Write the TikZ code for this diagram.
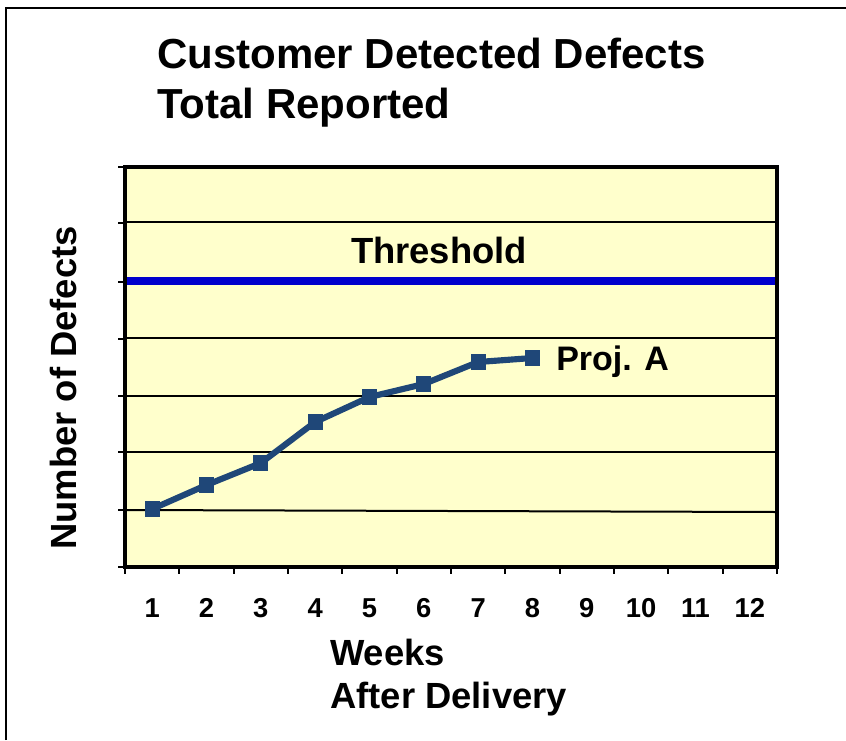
\documentclass[tikz,border=0pt]{standalone}
\usepackage{fontspec}
\setmainfont{Liberation Sans}
\definecolor{plotfill}{HTML}{FFFFCC}
\definecolor{threshblue}{HTML}{0000CC}
\definecolor{seriesblue}{HTML}{1F4778}
\begin{document}
\begin{tikzpicture}[x=0.75pt,y=-0.75pt,
  lbl/.style={font=\bfseries\fontsize{27.3}{30}\selectfont, inner sep=0pt},
  ttl/.style={font=\bfseries\fontsize{31.5}{36}\selectfont, inner sep=0pt, anchor=base west},
  tick/.style={font=\bfseries\fontsize{20.5}{24}\selectfont, inner sep=0pt},
  pt/.style={fill=seriesblue, minimum size=11.3pt, inner sep=0pt, draw=none, rectangle},
  grid/.style={line width=1.5pt, black},
  axis/.style={line width=3pt, black}]
\useasboundingbox (0,0) rectangle (846,740);
% frame (top and left edges)
\draw[line width=1.6pt] (6,740) -- (6,8) -- (846,8);
% title
\node[ttl] (t1) at (157,68) {Customer Detected Defects};
\node[ttl] (t2) at (157,118) {Total Reported};
% plot area
\fill[plotfill] (125,167) rectangle (777,567);
\foreach \y in {222,338,396,452} \draw[grid] (125,\y) -- (777,\y);
\draw[grid] (125,510) -- (777,512);
% threshold
\draw[line width=6pt, threshblue] (125,281) -- (777,281);
\node[lbl] (thr) at (439,250) {Threshold};
% axes box and ticks
\draw[axis] (125,167) rectangle (777,567);
\foreach \y in {167,223,282,339,396,452,510,567} \draw[line width=1.6pt] (118,\y) -- (125,\y);
\foreach \i in {0,...,12} \draw[line width=1.6pt] ({125+\i*54.33},567) -- ({125+\i*54.33},574);
\foreach \i in {1,...,12} \node[tick] (x\i) at ({125+(\i-0.5)*54.33},608) {\i};
% data series
\foreach \i/\y in {1/509,2/485,3/463,4/422,5/397,6/384,7/362,8/358}
  \coordinate (c\i) at ({125+(\i-0.5)*54.33},\y);
\draw[seriesblue, line width=4.6pt, line join=round] (c1) -- (c2) -- (c3) -- (c4) -- (c5) -- (c6) -- (c7) -- (c8);
\foreach \i in {1,...,8} \node[pt] (p\i) at (c\i) {};
\node[lbl, anchor=west, font=\bfseries\fontsize{25.5}{30}\selectfont] (proj) at (556,362) {Proj. A};
% axis titles
\node[lbl, rotate=90] (ylab) at (63,388) {Number of Defects};
\node[lbl, anchor=base west] (w1) at (330,665) {Weeks};
\node[lbl, anchor=base west] (w2) at (330,708) {After Delivery};
\end{tikzpicture}
\end{document}
